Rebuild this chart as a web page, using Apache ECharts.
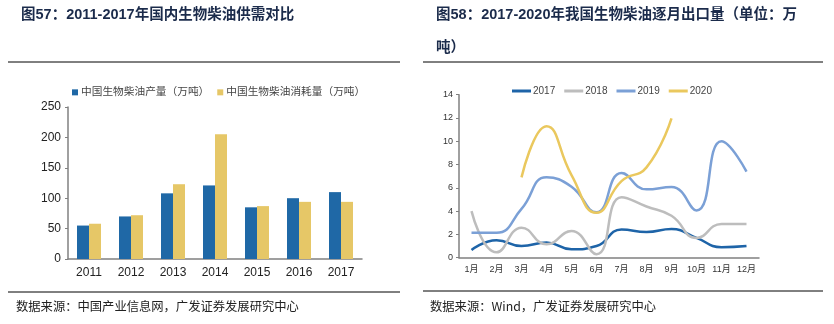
<!DOCTYPE html>
<html><head><meta charset="utf-8">
<script src="https://cdn.jsdelivr.net/npm/echarts@6/dist/echarts.min.js"></script>
<style>html,body{margin:0;padding:0;background:#fff}#c{width:834px;height:324px}</style>
</head><body><div id="c"></div>
<script>
var years = ['2011','2012','2013','2014','2015','2016','2017'];
var production = [55, 70, 108, 121, 85, 100, 110];
var consumption = [58, 72, 123, 205, 87, 94, 94];
var yTicksLeft = [0, 50, 100, 150, 200, 250];

var months = ['1月','2月','3月','4月','5月','6月','7月','8月','9月','10月','11月','12月'];
var exp2017 = [0.66, 1.5, 1.0, 1.3, 0.72, 1.0, 2.43, 2.2, 2.46, 1.7, 0.9, 1.0];
var exp2018 = [4.0, 0.46, 2.58, 1.15, 2.3, 0.3, 5.2, 4.4, 3.6, 1.7, 2.9, 2.9];
var exp2019 = [2.15, 2.15, 4.2, 6.9, 6.1, 3.9, 7.27, 5.87, 6.07, 4.06, 10.0, 7.4];
var exp2020 = ['-', '-', 6.9, 11.3, 7.1, 3.86, 6.58, 7.76, 11.96, '-', '-', '-'];
var yTicksRight = [0, 2, 4, 6, 8, 10, 12, 14];

var CJK = '"Liberation Sans", Arial, "Noto Sans CJK SC", sans-serif';
var titleColor = '#1b2b4b';
var axisColor = '#808080';
var lineW = 2.5;
var titleStyle = {fontSize: 14.5, fontWeight: 'bold', color: titleColor, fontFamily: CJK};

var chart = echarts.init(document.getElementById('c'), null, {renderer: 'canvas'});
chart.setOption({
  animation: false,
  textStyle: {fontFamily: CJK},
  title: [
    {text: '图57：2011-2017年国内生物柴油供需对比', left: 16, top: 3, textStyle: titleStyle},
    {text: '图58：2017-2020年我国生物柴油逐月出口量（单位：万', left: 431, top: 3, textStyle: titleStyle},
    {text: '吨）', left: 431, top: 36, textStyle: titleStyle}
  ],
  graphic: [
    {type: 'line', shape: {x1: 8, y1: 62, x2: 400, y2: 62}, style: {stroke: '#000', lineWidth: 1}},
    {type: 'line', shape: {x1: 423, y1: 62, x2: 823, y2: 62}, style: {stroke: '#000', lineWidth: 1}},
    {type: 'line', shape: {x1: 8, y1: 292, x2: 400, y2: 292}, style: {stroke: '#000', lineWidth: 1}},
    {type: 'line', shape: {x1: 423, y1: 291, x2: 823, y2: 291}, style: {stroke: '#000', lineWidth: 1}},
    {type: 'text', left: 16, top: 300, style: {text: '数据来源：中国产业信息网，广发证券发展研究中心', fill: '#222', font: '12.3px "Noto Sans CJK SC"'}},
    {type: 'text', left: 430, top: 300, style: {text: '数据来源：Wind，广发证券发展研究中心', fill: '#222', font: '12.3px "Noto Sans CJK SC"'}}
  ],
  legend: [
    {left: 67, top: 82, itemWidth: 6, itemHeight: 6, itemGap: 8, icon: 'rect',
     textStyle: {fontSize: 10.7, color: '#444', padding: [0, 0, 0, -2]},
     data: ['中国生物柴油产量（万吨）', '中国生物柴油消耗量（万吨）']},
    {left: 507, top: 81, itemWidth: 19, itemHeight: 3, itemGap: 9,
     textStyle: {fontSize: 10, color: '#444', padding: [0, 0, 0, -3]},
     data: [{name: '2017', icon: 'rect'}, {name: '2018', icon: 'rect'}, {name: '2019', icon: 'rect'}, {name: '2020', icon: 'rect'}]}
  ],
  grid: [
    {left: 68, top: 107, width: 294, height: 152},
    {left: 459, top: 94.7, width: 300, height: 163}
  ],
  xAxis: [
    {type: 'category', gridIndex: 0, data: years,
     axisLine: {lineStyle: {color: axisColor, width: 1.5}}, axisTick: {show: false},
     axisLabel: {fontSize: 12, color: '#222', margin: 8}},
    {type: 'category', gridIndex: 1, data: months,
     axisLine: {lineStyle: {color: axisColor, width: 1.5}}, axisTick: {show: false},
     axisLabel: {fontSize: 9, color: '#333', margin: 7}}
  ],
  yAxis: [
    {type: 'value', gridIndex: 0, min: yTicksLeft[0], max: yTicksLeft[yTicksLeft.length - 1], interval: 50,
     axisLine: {show: true, lineStyle: {color: axisColor, width: 1.5}},
     axisTick: {show: true, length: 3, lineStyle: {color: axisColor}},
     splitLine: {show: false}, axisLabel: {fontSize: 12, color: '#222', margin: 7}},
    {type: 'value', gridIndex: 1, min: yTicksRight[0], max: yTicksRight[yTicksRight.length - 1], interval: 2,
     axisLine: {show: true, lineStyle: {color: axisColor, width: 1.5}},
     axisTick: {show: true, length: 3, lineStyle: {color: axisColor}},
     splitLine: {show: false}, axisLabel: {fontSize: 9, color: '#333', margin: 6}}
  ],
  series: [
    {name: '中国生物柴油产量（万吨）', type: 'bar', xAxisIndex: 0, yAxisIndex: 0, data: production,
     barWidth: 12, barGap: '0%', itemStyle: {color: '#1f68a6'}},
    {name: '中国生物柴油消耗量（万吨）', type: 'bar', xAxisIndex: 0, yAxisIndex: 0, data: consumption,
     barWidth: 12, barGap: '0%', itemStyle: {color: '#e6c767'}},
    {name: '2017', type: 'line', xAxisIndex: 1, yAxisIndex: 1, data: exp2017, smooth: 0.5, showSymbol: false,
     lineStyle: {width: lineW, color: '#1e64a8'}, itemStyle: {color: '#1e64a8'}},
    {name: '2018', type: 'line', xAxisIndex: 1, yAxisIndex: 1, data: exp2018, smooth: 0.5, showSymbol: false,
     lineStyle: {width: lineW, color: '#bdbdbd'}, itemStyle: {color: '#bdbdbd'}},
    {name: '2019', type: 'line', xAxisIndex: 1, yAxisIndex: 1, data: exp2019, smooth: 0.5, showSymbol: false,
     lineStyle: {width: lineW, color: '#7ba0d6'}, itemStyle: {color: '#7ba0d6'}},
    {name: '2020', type: 'line', xAxisIndex: 1, yAxisIndex: 1, data: exp2020, smooth: 0.5, showSymbol: false,
     lineStyle: {width: lineW, color: '#eac85e'}, itemStyle: {color: '#eac85e'}}
  ]
});
</script></body></html>
